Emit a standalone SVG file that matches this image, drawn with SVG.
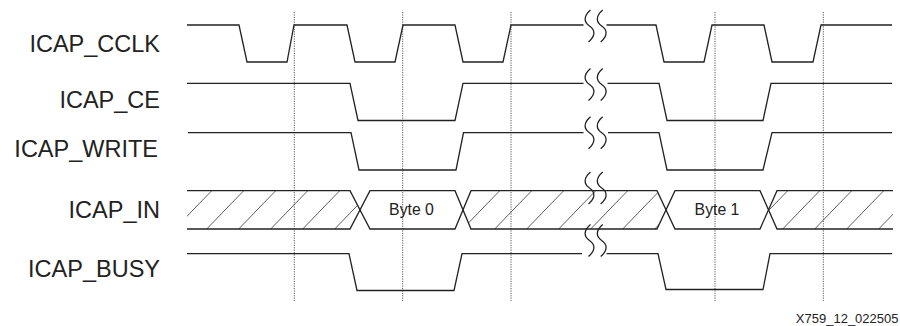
<svg xmlns="http://www.w3.org/2000/svg" width="900" height="326" viewBox="0 0 900 326">
<style>
.sig{fill:none;stroke:#222;stroke-width:1.3;stroke-linejoin:miter}
.hatch{fill:none;stroke:#333;stroke-width:0.8}
.grid{fill:none;stroke:#444;stroke-width:0.9;stroke-dasharray:1.2 1.2}
.lbl{font-family:"Liberation Sans",Arial,sans-serif;font-size:23.5px;fill:#222;text-anchor:end}
.byte{font-family:"Liberation Sans",Arial,sans-serif;font-size:15.8px;fill:#222;text-anchor:middle}
.foot{font-family:"Liberation Sans",Arial,sans-serif;font-size:13px;fill:#222;text-anchor:end}
</style>
<defs>
<path id="sq" d="M1,-16 C-6,-10 -6,-4 0,0 S6,10 -1,16" fill="none" stroke="#222" stroke-width="1.3"/>
<clipPath id="inv">
<polygon points="187,190.7 350,190.7 360,210 350,229 187,229"/>
<polygon points="463,210 471,190.7 657,190.7 666,210 657,229 471,229"/>
<polygon points="768.5,210 777,190.7 893,190.7 893,229 777,229"/>
</clipPath>
</defs>
<rect width="900" height="326" fill="#fff"/>

<g id="guides">
<line class="grid" x1="294.3" y1="12" x2="294.3" y2="301"/>
<line class="grid" x1="402.7" y1="12" x2="402.7" y2="301"/>
<line class="grid" x1="511" y1="12" x2="511" y2="301"/>
<line class="grid" x1="715" y1="12" x2="715" y2="301"/>
<line class="grid" x1="823.3" y1="12" x2="823.3" y2="301"/>
</g>

<g id="labels">
<text class="lbl" x="160" y="51.7">ICAP_CCLK</text>
<text class="lbl" x="160" y="108.3">ICAP_CE</text>
<text class="lbl" x="158" y="156.7">ICAP_WRITE</text>
<text class="lbl" x="160" y="218.3">ICAP_IN</text>
<text class="lbl" x="160" y="277.3">ICAP_BUSY</text>
</g>

<g id="ICAP_CCLK">
<path class="sig" d="M187,25 H239 L247,62 H287 L294,25 H347 L355,62 H395 L403,25 H455 L463,62 H503 L511,25 H583.5"/>
<path class="sig" d="M606.5,25 H656 L664,62 H704 L712,25 H764 L772,62 H813 L821,25 H892"/>
<use href="#sq" x="589.5" y="26"/>
<use href="#sq" x="601.7" y="26"/>
</g>

<g id="ICAP_CE">
<path class="sig" d="M187,83.3 H350 L358,120.5 H455 L463,83.3 H583.5"/>
<path class="sig" d="M607.5,83.3 H659 L667,120.5 H763 L771,83.3 H892"/>
<use href="#sq" x="589.5" y="84.5"/>
<use href="#sq" x="601.7" y="84.5"/>
</g>

<g id="ICAP_WRITE">
<path class="sig" d="M188,132.7 H351 L359,170 H456 L463.5,132.7 H583.5"/>
<path class="sig" d="M608,132.7 H659 L667,170 H763 L772,132.7 H892"/>
<use href="#sq" x="589.5" y="132.7"/>
<use href="#sq" x="601.7" y="132.7"/>
</g>

<g id="ICAP_IN">
<path class="hatch" clip-path="url(#inv)" d="M142.7,229L179.7,190.7M174.7,229L211.7,190.7M206.7,229L243.7,190.7M238.7,229L275.7,190.7M270.7,229L307.7,190.7M302.7,229L339.7,190.7M334.7,229L371.7,190.7M366.7,229L403.7,190.7M398.7,229L435.7,190.7M430.7,229L467.7,190.7M462.7,229L499.7,190.7M494.7,229L531.7,190.7M526.7,229L563.7,190.7M558.7,229L595.7,190.7M590.7,229L627.7,190.7M622.7,229L659.7,190.7M654.7,229L691.7,190.7M686.7,229L723.7,190.7M718.7,229L755.7,190.7M750.7,229L787.7,190.7M782.7,229L819.7,190.7M814.7,229L851.7,190.7M846.7,229L883.7,190.7M878.7,229L915.7,190.7"/>
<path class="sig" d="M187,190.7 H350 L370,229 H455 L471,190.7 H657 L675,229 H760 L777,190.7 H893"/>
<path class="sig" d="M187,229 H350 L370,190.7 H455 L471,229 H657 L675,190.7 H760 L777,229 H893"/>
<text class="byte" x="411.5" y="215.3">Byte 0</text>
<text class="byte" x="717" y="215.3">Byte 1</text>
<use href="#sq" x="589.5" y="188"/>
<use href="#sq" x="601.7" y="188"/>
<use href="#sq" x="589.5" y="240.5"/>
<use href="#sq" x="601.7" y="240.5"/>
</g>

<g id="ICAP_BUSY">
<path class="sig" d="M187,253.7 H349 L357,290.5 H454 L462,253.7 H582"/>
<path class="sig" d="M606.5,253.7 H658 L666,289.5 H763 L770,253.7 H892"/>
</g>

<text id="fig-id" class="foot" x="898.5" y="322.5">X759_12_022505</text>
</svg>
